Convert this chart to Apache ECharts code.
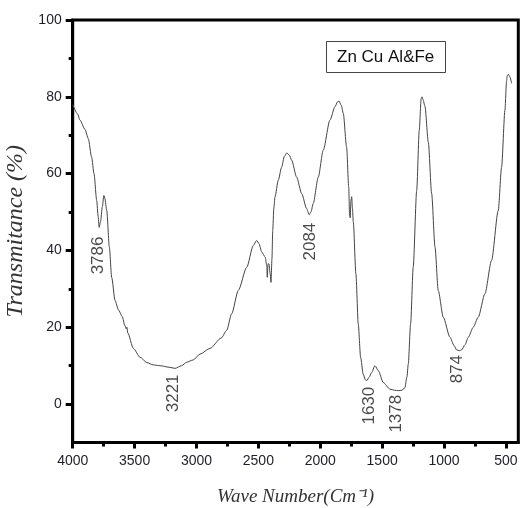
<!DOCTYPE html>
<html>
<head>
<meta charset="utf-8">
<script src="https://cdn.jsdelivr.net/npm/echarts@6/dist/echarts.min.js"></script>
<style>html,body{margin:0;padding:0;background:#fff}#c{width:523px;height:508px}</style>
</head>
<body>
<div id="c"></div>
<script>
// Wavenumber (cm-1) and transmittance (%)
const waveNumber = [4000,3960,3941,3900,3874,3847,3828,3806,3795,3786,3775,3761,3748,3740,3725,3704,3685,3658,3630,3600,3578,3568,3562,3555,3510,3456,3400,3349,3294,3221,3174,3120,3079,3026,2972,2891,2800,2756,2716,2662,2594,2541,2514,2495,2473,2445,2432,2428,2422,2414,2405,2398,2390,2384,2375,2366,2339,2312,2290,2271,2250,2231,2191,2150,2110,2089,2075,2057,2016,1976,1922,1881,1860,1849,1830,1814,1787,1770,1763,1758,1752,1746,1740,1733,1712,1693,1674,1653,1635,1625,1605,1585,1558,1531,1491,1437,1400,1370,1340,1316,1300,1289,1270,1249,1221,1200,1185,1178,1170,1154,1127,1100,1073,1047,1006,952,920,898,875,858,830,804,764,724,670,616,562,535,508,495,489,478,468,454];
const transmittance = [78,75.5,73.9,71.5,69.1,64.3,60,53,49,46,47.5,51.3,54.3,53.5,50.4,40.9,33,27,24.5,22.8,20.4,19.6,20,18.5,14.5,12.2,10.8,10.2,10,9.6,9.3,10,10.9,11.5,13,14.5,17.2,19.2,23.5,29.6,35.6,41.3,42.6,41.8,39.6,38.3,36,33,36.5,36.5,34,31.7,38,45.2,51,53.9,58.3,61.7,64.5,65.4,64.8,63.5,59.1,54.8,50.9,49.3,50,52.2,59.1,66.1,73.9,77.4,78.7,78.9,77.8,75.7,66.9,56.5,49,48.5,53,54,51,47.4,33.9,20.9,12.2,7.8,6.3,6.1,7,8.2,10,8.7,5.6,3.9,3.6,3.5,3.6,4.3,7,10.4,20.9,35.6,55.6,71.3,79.5,80,79.3,77.5,68.2,54.8,40.9,29.6,22.6,17.4,15.3,14.1,13.9,14.1,15.5,17.4,20,22.6,28.7,37.4,50.4,61.7,76.5,84,85.6,85.8,85.2,83.5];

// Peak annotations (text and anchor in data units)
const peakText = ['3786','3221','2084','1630','1378','874'];
const peakAtX  = [3796, 3187, 2083, 1607, 1388, 892];
const peakAtY  = [38.7, 2.8, 42.3, -0.4, -2.5, 9.1];

const xMajorTicks = [4000,3500,3000,2500,2000,1500,1000,500];
const xMinorTicks = [3750,3250,2750,2250,1750,1250,750];
const yMajorTicks = [0,20,40,60,80,100];
const yMinorTicks = [10,30,50,70,90];
const legendText = 'Zn Cu Al&Fe';

const chart = echarts.init(document.getElementById('c'), null, {renderer:'canvas'});
const lineData = waveNumber.map((w,i)=>[w, transmittance[i]]);
const peakData = peakText.map((t,i)=>({name:t, value:[peakAtX[i], peakAtY[i]]}));

const tickFont = {fontFamily:'Liberation Sans, Arial', fontSize:14, color:'#1e1e28'};
chart.setOption({
  animation:false,
  backgroundColor:'#fff',
  title:{
    text: legendText, left:326, top:41,
    borderColor:'#444', borderWidth:1, padding:[7,11,7,11],
    textStyle:{fontFamily:'Liberation Sans, Arial', fontSize:17, fontWeight:'normal', color:'#111', lineHeight:18}
  },
  grid:{left:72.7, right:4.7, top:20, bottom:65.5, show:true, borderColor:'#000', borderWidth:3,
        backgroundColor:'transparent', containLabel:false, outerBoundsMode:'none'},
  xAxis:[{
    type:'value', min:400, max:4000, inverse:true,
    axisLine:{show:true, onZero:false, lineStyle:{color:'#000', width:3}},
    axisTick:{show:true, inside:false, customValues:xMajorTicks, length:6, lineStyle:{color:'#000', width:3}},
    axisLabel:{show:true, customValues:xMajorTicks, margin:12, formatter:v=>String(v), ...tickFont},
    splitLine:{show:false},
    name:'Wave Number(Cm\u207B\u00B9)', nameLocation:'middle', nameGap:45,
    nameTextStyle:{fontFamily:'Liberation Serif, Times New Roman', fontStyle:'italic', fontSize:19, color:'#333'}
  },{
    type:'value', min:400, max:4000, inverse:true, position:'bottom', offset:0,
    axisLine:{show:false, onZero:false},
    axisTick:{show:true, inside:false, customValues:xMinorTicks, length:4, lineStyle:{color:'#000', width:3}},
    axisLabel:{show:false}, splitLine:{show:false}
  }],
  yAxis:[{
    type:'value', min:-10, max:100,
    axisLine:{show:true, onZero:false, lineStyle:{color:'#000', width:3}},
    axisTick:{show:true, inside:false, customValues:yMajorTicks, length:7, lineStyle:{color:'#000', width:3}},
    axisLabel:{show:true, customValues:yMajorTicks, margin:11, formatter:v=>String(v), ...tickFont},
    splitLine:{show:false},
    name:'Transmitance (%)', nameLocation:'middle', nameGap:42,
    nameTextStyle:{fontFamily:'Liberation Serif, Times New Roman', fontStyle:'italic', fontSize:24, color:'#333'}
  },{
    type:'value', min:-10, max:100, position:'left', offset:0,
    axisLine:{show:false, onZero:false},
    axisTick:{show:true, inside:false, customValues:yMinorTicks, length:4, lineStyle:{color:'#000', width:3}},
    axisLabel:{show:false}, splitLine:{show:false}
  }],
  series:[{
    type:'line', xAxisIndex:0, yAxisIndex:0, data:lineData,
    showSymbol:false, smooth:0.25, smoothMonotone:'x',
    lineStyle:{color:'#444', width:1}
  },{
    type:'scatter', xAxisIndex:0, yAxisIndex:0, data:peakData,
    symbolSize:0, silent:true,
    label:{show:true, position:'inside', rotate:90, formatter:p=>p.name,
      fontFamily:'Liberation Sans, Arial', fontSize:17, color:'#1a1a1a'}
  }]
});
</script>
</body>
</html>
